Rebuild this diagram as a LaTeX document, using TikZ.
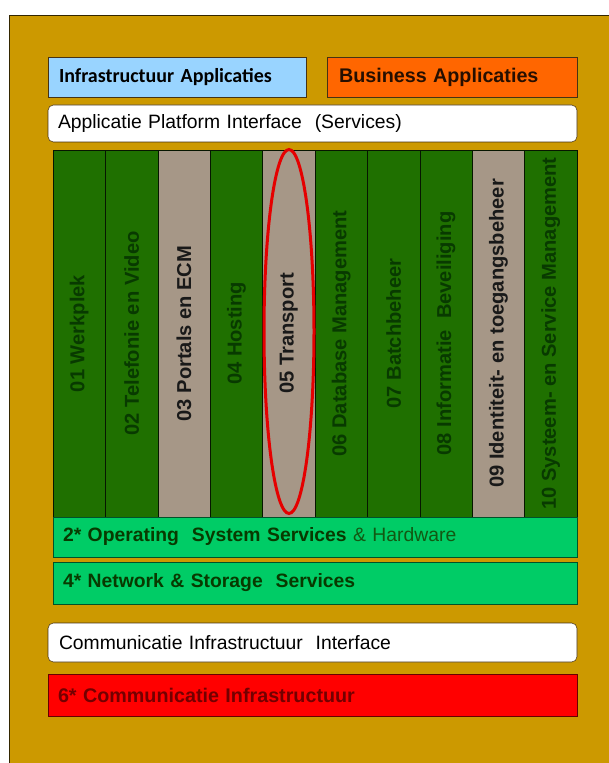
\documentclass[tikz,border=0pt]{standalone}
\usepackage{fontspec}
\setmainfont{Liberation Sans}
\newfontfamily\calibrifont{Carlito}
\usetikzlibrary{shapes.geometric}

\definecolor{goud}{RGB}{204,153,0}
\definecolor{lichtblauw}{RGB}{153,212,255}
\definecolor{oranje}{RGB}{255,102,0}
\definecolor{donkergroen}{RGB}{31,112,0}
\definecolor{taupe}{RGB}{166,151,135}
\definecolor{lichtgroen}{RGB}{0,204,102}
\definecolor{rood}{RGB}{255,0,0}
\definecolor{tekstgroen}{RGB}{8,58,0}
\definecolor{hardwaregroen}{RGB}{18,88,18}
\definecolor{tekstrood}{RGB}{115,0,0}
\definecolor{rand}{RGB}{70,50,20}

\begin{document}
\begin{tikzpicture}[x=0.75pt,y=-0.75pt,
    balk/.style={draw=rand,align=left,inner ysep=0pt,font=\fontsize{14.5}{16}\selectfont},
    kolom/.style={draw=black!80!donkergroen,fill=#1,minimum width=39.3pt,minimum height=275.25pt,inner sep=0pt,
                  font=\fontsize{15.1}{16}\selectfont\bfseries}]
    % Definitions
    \useasboundingbox (0,0) rectangle (608,763);
    \coordinate (IA)  at (177,77);
    \coordinate (BA)  at (452,77);
    \coordinate (API) at (312.5,123.5);
    \coordinate (OS)  at (315,537);
    \coordinate (NS)  at (315,583);
    \coordinate (CII) at (312.5,642.5);
    \coordinate (CI)  at (312.5,695);
    % Rectangles
    \draw[fill=goud,draw=black!75!goud] (9,15) rectangle (620,775);
    % Nodes
    \node(InApp)  at (IA)  [balk,fill=lichtblauw,minimum height=30pt,text width=177pt,inner xsep=8.25pt]
        {\calibrifont\bfseries\fontsize{15}{16}\selectfont Infrastructuur Applicaties};
    \node(BuApp)  at (BA)  [balk,fill=oranje,minimum height=30pt,text width=169.5pt,inner xsep=9pt]
        {\bfseries\fontsize{14.8}{16}\selectfont\color{black!85!oranje}Business Applicaties};
    \node(ApPlIn) at (API) [balk,fill=white,rounded corners=4pt,minimum height=27.75pt,text width=381.75pt,inner xsep=7.5pt]
        {Applicatie Platform Interface\ \ (Services)};
    \node(Werk)   at (79.2,333.5)  [kolom=donkergroen] {\color{tekstgroen}\rotatebox{90}{01 Werkplek}};
    \node(TeVi)   at (131.6,333.5) [kolom=donkergroen] {\color{tekstgroen}\rotatebox{90}{02 Telefonie en Video}};
    \node(PoEC)   at (184,333.5)   [kolom=taupe]       {\color{black!90}\rotatebox{90}{03 Portals en ECM}};
    \node(Host)   at (236.4,333.5) [kolom=donkergroen] {\color{tekstgroen}\rotatebox{90}{04 Hosting}};
    \node(Tran)   at (288.8,333.5) [kolom=taupe]       {\color{black!90}\rotatebox{90}{05 Transport}};
    \node(DaMa)   at (341.2,333.5) [kolom=donkergroen] {\color{tekstgroen}\rotatebox{90}{06 Database Management}};
    \node(Batc)   at (393.6,333.5) [kolom=donkergroen] {\color{tekstgroen}\rotatebox{90}{07 Batchbeheer}};
    \node(InBe)   at (446,333.5)   [kolom=donkergroen] {\color{tekstgroen}\rotatebox{90}{08 Informatie\ \ Beveiliging}};
    \node(IdTo)   at (498.4,333.5) [kolom=taupe]       {\color{black!90}\rotatebox{90}{09 Identiteit-\ en toegangsbeheer}};
    \node(SySe)   at (550.8,333.5) [kolom=donkergroen] {\color{tekstgroen}\rotatebox{90}{10 Systeem- en Service Management}};
    \node(TrEl)   at (289,331.5) [ellipse,draw=red!90!black,line width=2.25pt,minimum width=37.5pt,minimum height=273pt,inner sep=0pt] {};
    \node(OpSy)   at (OS)  [balk,fill=lichtgroen,draw=black!60!lichtgroen,minimum height=30pt,text width=378pt,inner xsep=7.5pt]
        {\color{tekstgroen}\textbf{2* Operating\ \ System Services} \color{hardwaregroen}\& Hardware};
    \node(NeSt)   at (NS)  [balk,fill=lichtgroen,draw=black!60!lichtgroen,minimum height=31.5pt,text width=378pt,inner xsep=7.5pt]
        {\color{tekstgroen}\bfseries 4* Network \& Storage\ \ Services};
    \node(CoInIn) at (CII) [balk,fill=white,rounded corners=4pt,minimum height=29.25pt,text width=380.25pt,inner xsep=8.25pt]
        {Communicatie Infrastructuur\ \ Interface};
    \node(CoIn)   at (CI)  [balk,fill=rood,draw=black!60!rood,minimum height=31.5pt,text width=381.75pt,inner xsep=7.5pt]
        {\color{tekstrood}\bfseries\fontsize{14.8}{16}\selectfont 6* Communicatie Infrastructuur};
\end{tikzpicture}
\end{document}
